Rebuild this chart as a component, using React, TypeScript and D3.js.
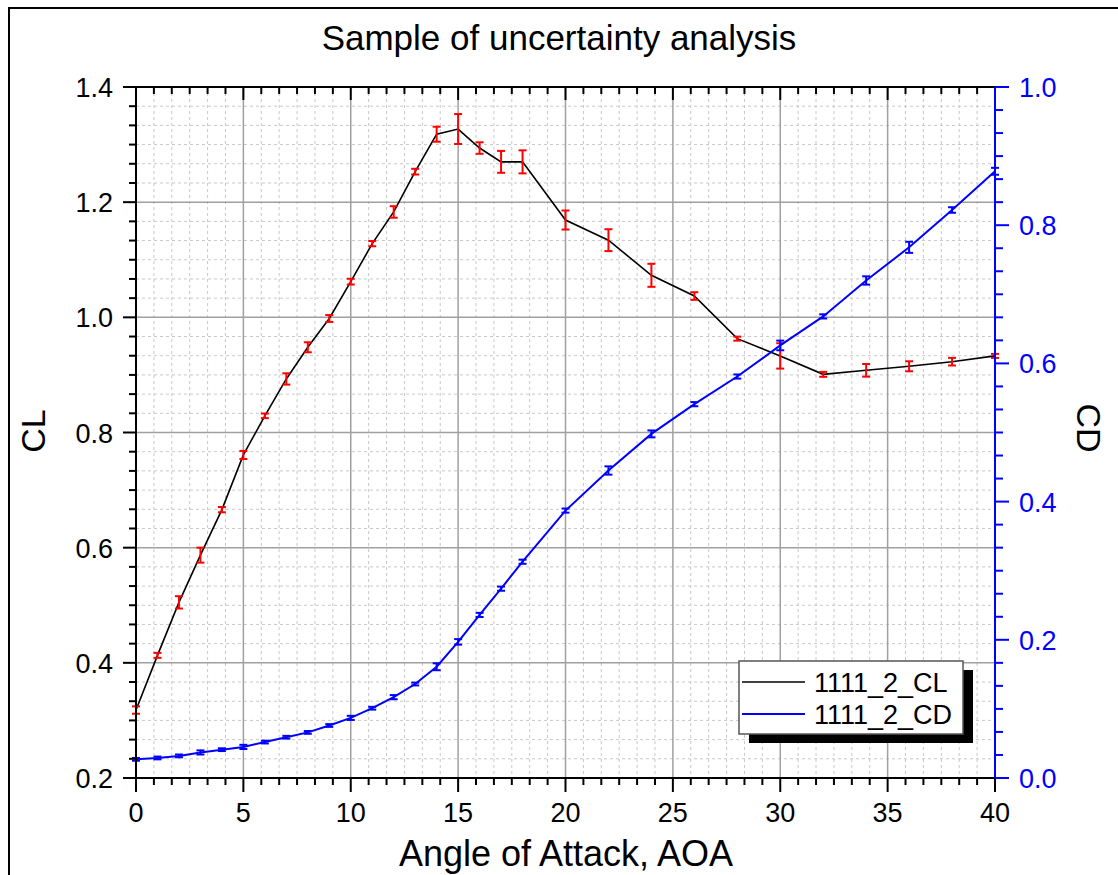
import React from "react";
import * as d3 from "d3";

const aoa = [0,1,2,3,4,5,6,7,8,9,10,11,12,13,14,15,16,17,18,20,22,24,26,28,30,32,34,36,38,40];
const clValues = [0.318,0.413,0.505,0.587,0.666,0.761,0.829,0.893,0.948,0.998,1.062,1.128,1.183,1.253,1.318,1.327,1.294,1.270,1.270,1.169,1.134,1.073,1.037,0.963,0.933,0.901,0.908,0.915,0.923,0.933];
const clErrors = [0.0064,0.0043,0.0107,0.013,0.0046,0.007,0.004,0.0098,0.0087,0.006,0.005,0.0046,0.010,0.005,0.013,0.026,0.010,0.019,0.020,0.0165,0.019,0.020,0.0066,0.0035,0.022,0.0043,0.011,0.0087,0.0066,0.0035];
const cdValues = [0.027,0.029,0.032,0.037,0.041,0.045,0.052,0.059,0.066,0.076,0.087,0.101,0.117,0.136,0.161,0.197,0.236,0.274,0.313,0.387,0.445,0.498,0.541,0.581,0.626,0.668,0.720,0.768,0.822,0.878];
const cdErrors = [0.002,0.002,0.002,0.003,0.002,0.003,0.002,0.002,0.002,0.002,0.003,0.002,0.003,0.002,0.005,0.004,0.003,0.003,0.003,0.003,0.006,0.005,0.003,0.003,0.007,0.003,0.006,0.008,0.004,0.005];
const xTicks = [0,5,10,15,20,25,30,35,40];
const clTicks = [0.2,0.4,0.6,0.8,1.0,1.2,1.4];
const cdTicks = [0.0,0.2,0.4,0.6,0.8,1.0];
const seriesNames = ["1111_2_CL", "1111_2_CD"];
const title = "Sample of uncertainty analysis";

const FONT = "Arial, 'Liberation Sans', sans-serif";

export default function App() {
  const W = 1118, H = 875;
  const L = 136, R = 995, T = 87, B = 778;
  const x = d3.scaleLinear().domain([0, 40]).range([L, R]);
  const yL = d3.scaleLinear().domain([0.2, 1.4]).range([B, T]);
  const yR = d3.scaleLinear().domain([0, 1]).range([B, T]);

  const xMinor: number[] = [];
  for (let i = 0; i <= 48; i++) if (i % 6 !== 0) xMinor.push((i * 5) / 6);
  const yMinor: number[] = [];
  for (let i = 0; i <= 36; i++) if (i % 6 !== 0) yMinor.push(0.2 + (i * 0.2) / 6);
  const yRMinor: number[] = [];
  for (let i = 0; i <= 30; i++) if (i % 6 !== 0) yRMinor.push((i * 0.2) / 6);

  const clLine = d3.line<number>().x((_, i) => x(aoa[i])).y((d) => yL(d));
  const cdLine = d3.line<number>().x((_, i) => x(aoa[i])).y((d) => yR(d));

  const cap = 4;

  return (
    <svg width={W} height={H} style={{ position: "absolute", left: 0, top: 0 }} fontFamily={FONT}>
      <rect x={0} y={0} width={W} height={H} fill="#fff" />
      <rect x={9} y={8} width={W + 20} height={H + 20} fill="none" stroke="#000" strokeWidth={2} />
      <text x={559} y={50} textAnchor="middle" fontSize={35}>{title}</text>

      {/* minor grid */}
      {xMinor.map((v) => (
        <line key={"xm" + v} x1={x(v)} x2={x(v)} y1={T} y2={B} stroke="#c8c8c8" strokeWidth={1} strokeDasharray="3,3" />
      ))}
      {yMinor.map((v) => (
        <line key={"ym" + v} x1={L} x2={R} y1={yL(v)} y2={yL(v)} stroke="#c8c8c8" strokeWidth={1} strokeDasharray="3,3" />
      ))}
      {/* major grid */}
      {xTicks.map((v) => (
        <line key={"xg" + v} x1={x(v)} x2={x(v)} y1={T} y2={B} stroke="#a0a0a0" strokeWidth={1.5} />
      ))}
      {clTicks.map((v) => (
        <line key={"yg" + v} x1={L} x2={R} y1={yL(v)} y2={yL(v)} stroke="#a0a0a0" strokeWidth={1.5} />
      ))}

      {/* CL series */}
      <path d={clLine(clValues) || ""} fill="none" stroke="#000" strokeWidth={1.6} />
      {clValues.map((v, i) => {
        const cx = x(aoa[i]);
        const y1 = yL(v - clErrors[i]);
        const y2 = yL(v + clErrors[i]);
        return (
          <g key={"ce" + i} stroke="#ff0000" strokeWidth={2}>
            <line x1={cx} x2={cx} y1={y1} y2={y2} />
            <line x1={cx - cap} x2={cx + cap} y1={y1} y2={y1} />
            <line x1={cx - cap} x2={cx + cap} y1={y2} y2={y2} />
          </g>
        );
      })}

      {/* CD series */}
      <path d={cdLine(cdValues) || ""} fill="none" stroke="#0000ff" strokeWidth={2} />
      {cdValues.map((v, i) => {
        const cx = x(aoa[i]);
        const y1 = yR(v - cdErrors[i]);
        const y2 = yR(v + cdErrors[i]);
        return (
          <g key={"de" + i} stroke="#0000ff" strokeWidth={2}>
            <line x1={cx} x2={cx} y1={y1} y2={y2} />
            <line x1={cx - cap} x2={cx + cap} y1={y1} y2={y1} />
            <line x1={cx - cap} x2={cx + cap} y1={y2} y2={y2} />
          </g>
        );
      })}

      {/* top axis */}
      <line x1={L - 13} x2={R} y1={T} y2={T} stroke="#000" strokeWidth={2} />
      {xTicks.map((v) => (
        <line key={"tt" + v} x1={x(v)} x2={x(v)} y1={T} y2={T + 13} stroke="#000" strokeWidth={2} />
      ))}
      {xMinor.map((v) => (
        <line key={"ttm" + v} x1={x(v)} x2={x(v)} y1={T} y2={T + 7} stroke="#000" strokeWidth={2} />
      ))}

      {/* bottom axis */}
      <line x1={L - 13} x2={R} y1={B} y2={B} stroke="#000" strokeWidth={2} />
      {xTicks.map((v) => (
        <g key={"bt" + v}>
          <line x1={x(v)} x2={x(v)} y1={B} y2={B + 14} stroke="#000" strokeWidth={2} />
          <text x={x(v)} y={822} textAnchor="middle" fontSize={27}>{v}</text>
        </g>
      ))}
      {xMinor.map((v) => (
        <line key={"btm" + v} x1={x(v)} x2={x(v)} y1={B} y2={B + 7} stroke="#000" strokeWidth={2} />
      ))}
      <text x={566} y={866} textAnchor="middle" fontSize={36}>Angle of Attack, AOA</text>

      {/* left axis */}
      <line x1={L} x2={L} y1={T} y2={B + 14} stroke="#000" strokeWidth={2} />
      {clTicks.map((v) => (
        <g key={"lt" + v}>
          <line x1={L - 13} x2={L} y1={yL(v)} y2={yL(v)} stroke="#000" strokeWidth={2} />
          <text x={113} y={yL(v) + 10} textAnchor="end" fontSize={27}>{v.toFixed(1)}</text>
        </g>
      ))}
      {yMinor.map((v) => (
        <line key={"ltm" + v} x1={L - 7} x2={L} y1={yL(v)} y2={yL(v)} stroke="#000" strokeWidth={2} />
      ))}
      <text transform={`translate(45,431) rotate(-90)`} textAnchor="middle" fontSize={34}>CL</text>

      {/* right axis */}
      <line x1={R} x2={R} y1={T} y2={B} stroke="#0000ff" strokeWidth={2} />
      {cdTicks.map((v) => (
        <g key={"rt" + v}>
          <line x1={R} x2={R + 14} y1={yR(v)} y2={yR(v)} stroke="#0000ff" strokeWidth={2} />
          <text x={1019} y={yR(v) + 10} textAnchor="start" fontSize={27} fill="#0000ff">{v.toFixed(1)}</text>
        </g>
      ))}
      {yRMinor.map((v) => (
        <line key={"rtm" + v} x1={R} x2={R + 8} y1={yR(v)} y2={yR(v)} stroke="#0000ff" strokeWidth={2} />
      ))}
      <text transform={`translate(1077,428) rotate(90)`} textAnchor="middle" fontSize={34}>CD</text>

      {/* legend */}
      <rect x={749} y={670} width={224} height={73} fill="#000" />
      <rect x={739} y={661} width={224} height={73} fill="#fff" stroke="#555" strokeWidth={1.5} />
      <line x1={742} x2={805} y1={682} y2={682} stroke="#000" strokeWidth={1.6} />
      <text x={814} y={692} fontSize={27}>{seriesNames[0]}</text>
      <line x1={742} x2={805} y1={714} y2={714} stroke="#0000ff" strokeWidth={2} />
      <text x={814} y={724} fontSize={27}>{seriesNames[1]}</text>
    </svg>
  );
}
